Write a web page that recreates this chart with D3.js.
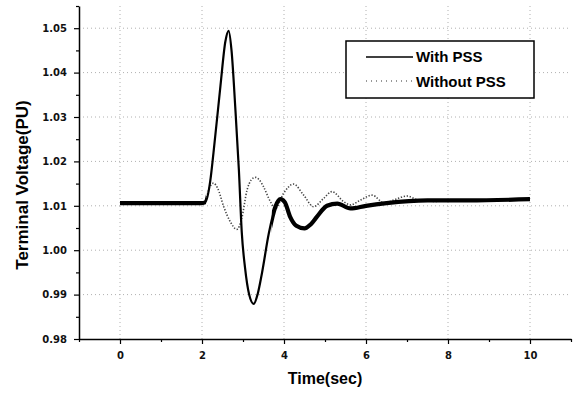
<!DOCTYPE html>
<html>
<head>
<meta charset="utf-8">
<script src="https://cdn.jsdelivr.net/npm/d3@7"></script>
<style>
  html, body { margin: 0; padding: 0; background: #fff; }
  svg { display: block; }
</style>
</head>
<body>
<script>
// ---- Data ----
const timeWithPSS = [0, 1, 2.0, 2.08, 2.2, 2.28, 2.45, 2.57, 2.65, 2.72, 2.81, 2.90, 2.97, 3.05, 3.15, 3.26, 3.36, 3.46, 3.63, 3.79, 3.91, 4.02, 4.15, 4.30, 4.50, 4.65, 4.80, 5.05, 5.30, 5.62, 6.0, 6.5, 7.5, 8.5, 10];
const voltageWithPSS = [1.0106, 1.0106, 1.0106, 1.0108, 1.0155, 1.0219, 1.0370, 1.0470, 1.0494, 1.0450, 1.0324, 1.0180, 1.0040, 0.9960, 0.9900, 0.9879, 0.9902, 0.9947, 1.0038, 1.0098, 1.0115, 1.0108, 1.0075, 1.0055, 1.0049, 1.0058, 1.0075, 1.0100, 1.0105, 1.0094, 1.0100, 1.0106, 1.0112, 1.0112, 1.0115];

const timeWithoutPSS = [0, 1, 2.0, 2.08, 2.18, 2.28, 2.38, 2.53, 2.69, 2.85, 2.97, 3.10, 3.20, 3.30, 3.40, 3.50, 3.67, 3.79, 3.99, 4.23, 4.48, 4.72, 4.97, 5.17, 5.46, 5.62, 5.85, 6.15, 6.45, 6.70, 7.00, 7.30, 7.70, 8.20, 8.80, 9.40, 10];
const voltageWithoutPSS = [1.0106, 1.0106, 1.0106, 1.0110, 1.0140, 1.0151, 1.0140, 1.0098, 1.0064, 1.0047, 1.0072, 1.0136, 1.0158, 1.0164, 1.0158, 1.0143, 1.0109, 1.0094, 1.0128, 1.0149, 1.0124, 1.0098, 1.0117, 1.0132, 1.0109, 1.0102, 1.0112, 1.0124, 1.0106, 1.0114, 1.0122, 1.0112, 1.0110, 1.0113, 1.0112, 1.0114, 1.0115];

const xMajorTicks = [0, 2, 4, 6, 8, 10];
const xMinorTicks = [-1, 1, 3, 5, 7, 9, 11];
const yMajorTicks = [0.98, 0.99, 1.00, 1.01, 1.02, 1.03, 1.04, 1.05];
const yMinorTicks = [0.985, 0.995, 1.005, 1.015, 1.025, 1.035, 1.045, 1.055];
const seriesNames = ["With PSS", "Without PSS"];
const xTitle = "Time(sec)";
const yTitle = "Terminal Voltage(PU)";
// time spans where the "With PSS" trace is drawn heavier (noisy steady state)
const heavySpans = [[0, 2.05], [3.75, 10.05]];

// ---- Layout ----
const W = 576, H = 394;
const plot = { left: 79, right: 571, top: 6, bottom: 339 };

const svg = d3.select("body").append("svg").attr("width", W).attr("height", H);

const x = d3.scaleLinear().domain([-1, 11]).range([plot.left, plot.right]);
const y = d3.scaleLinear().domain([0.98, 1.055]).range([plot.bottom, plot.top]);

// Grid (dotted, faint)
const grid = svg.append("g").attr("stroke", "#b0b0b0").attr("stroke-width", 1).attr("stroke-dasharray", "1,3");
grid.selectAll("line.v").data(xMajorTicks).join("line")
  .attr("x1", d => x(d)).attr("x2", d => x(d))
  .attr("y1", plot.top).attr("y2", plot.bottom);
grid.selectAll("line.h").data(yMajorTicks.slice(1)).join("line")
  .attr("x1", plot.left).attr("x2", plot.right)
  .attr("y1", d => y(d)).attr("y2", d => y(d));

// Series
const line = d3.line().x(d => x(d[0])).y(d => y(d[1])).curve(d3.curveMonotoneX);
const withoutData = timeWithoutPSS.map((t, i) => [t, voltageWithoutPSS[i]]);
const withData = timeWithPSS.map((t, i) => [t, voltageWithPSS[i]]);

svg.append("path").datum(withoutData)
  .attr("d", line).attr("fill", "none")
  .attr("stroke", "#444").attr("stroke-width", 1.6)
  .attr("stroke-dasharray", "1.3,1.7");

svg.append("path").datum(withData)
  .attr("d", line).attr("fill", "none")
  .attr("stroke", "#000").attr("stroke-width", 2.2)
  .attr("stroke-linejoin", "round");

const defs = svg.append("defs");
const clip = defs.append("clipPath").attr("id", "heavy");
clip.selectAll("rect").data(heavySpans).join("rect")
  .attr("x", d => x(d[0]) - 2).attr("width", d => x(d[1]) - x(d[0]) + 4)
  .attr("y", plot.top).attr("height", plot.bottom - plot.top);
svg.append("path").datum(withData)
  .attr("clip-path", "url(#heavy)")
  .attr("d", line).attr("fill", "none")
  .attr("stroke", "#000").attr("stroke-width", 4.2)
  .attr("stroke-linejoin", "round");

// Axes
const tickFont = "'DejaVu Sans', sans-serif";
svg.append("g").attr("transform", `translate(0,${plot.bottom})`)
  .call(d3.axisBottom(x).tickValues(xMajorTicks).tickSize(5).tickSizeOuter(0).tickPadding(8).tickFormat(d3.format("d")));
svg.append("g").attr("transform", `translate(${plot.left},0)`)
  .call(d3.axisLeft(y).tickValues(yMajorTicks).tickSize(5).tickSizeOuter(0).tickPadding(7).tickFormat(d3.format(".2f")));

svg.append("g").attr("transform", `translate(0,${plot.bottom})`)
  .call(d3.axisBottom(x).tickValues(xMinorTicks).tickSize(3).tickSizeOuter(0).tickFormat(""))
  .select(".domain").remove();
svg.append("g").attr("transform", `translate(${plot.left},0)`)
  .call(d3.axisLeft(y).tickValues(yMinorTicks).tickSize(3).tickSizeOuter(0).tickFormat(""))
  .select(".domain").remove();

svg.selectAll(".domain").attr("stroke", "#000").attr("stroke-width", 1.5);
svg.selectAll(".tick line").attr("stroke", "#000").attr("stroke-width", 1.2);
svg.selectAll(".tick text").attr("font-family", tickFont).attr("font-size", 10)
  .attr("font-weight", "bold").attr("fill", "#111");

// Axis titles
svg.append("text").attr("x", 325).attr("y", 384).attr("text-anchor", "middle")
  .attr("font-family", "'Liberation Sans', Arial, sans-serif").attr("font-weight", "bold")
  .attr("font-size", 16).text(xTitle);
svg.append("text").attr("transform", `translate(28,185) rotate(-90)`).attr("text-anchor", "middle")
  .attr("font-family", "'Liberation Sans', Arial, sans-serif").attr("font-weight", "bold")
  .attr("font-size", 17).text(yTitle);

// Legend
const lg = svg.append("g");
lg.append("rect").attr("x", 346).attr("y", 41).attr("width", 188).attr("height", 57)
  .attr("fill", "#fff").attr("stroke", "#000").attr("stroke-width", 1.5);
lg.append("line").attr("x1", 366).attr("x2", 413).attr("y1", 57).attr("y2", 57)
  .attr("stroke", "#000").attr("stroke-width", 1.5);
lg.append("line").attr("x1", 366).attr("x2", 413).attr("y1", 81).attr("y2", 81)
  .attr("stroke", "#777").attr("stroke-width", 1.3).attr("stroke-dasharray", "1,4");
lg.selectAll("text").data(seriesNames).join("text")
  .attr("x", 416).attr("y", (d, i) => 62 + i * 25)
  .attr("font-family", "'Liberation Sans', Arial, sans-serif").attr("font-weight", "bold").attr("font-size", 15)
  .text(d => d);
</script>
</body>
</html>
